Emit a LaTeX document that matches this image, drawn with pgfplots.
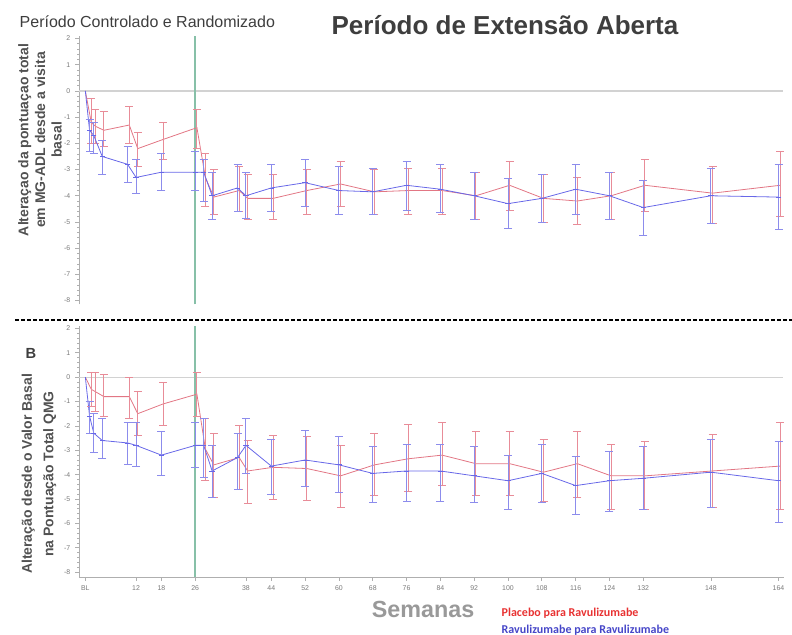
\documentclass[border=0pt]{standalone}
\usepackage{fontspec}
\setmainfont{Liberation Sans}
\newfontfamily\carlito{Carlito}
\usepackage{pgfplots}
\usepackage{pgfplotstable}
\pgfplotsset{compat=1.18}
\definecolor{cred}{RGB}{226,118,132}
\definecolor{cblue}{RGB}{104,104,232}
\definecolor{ebred}{RGB}{232,140,152}
\definecolor{ebblue}{RGB}{140,140,236}
\definecolor{cgreen}{RGB}{135,192,168}
\definecolor{zline}{RGB}{210,210,210}
\definecolor{axgray}{RGB}{175,175,175}
\definecolor{ttl}{RGB}{62,62,62}
\definecolor{legred}{RGB}{232,50,50}
\definecolor{legblue}{RGB}{70,70,200}

% Top panel (MG-ADL)
\pgfplotstableread{
x y hi lo
1 -1.5 -1.1 -2.3
2 -1.7 -1.2 -2.4
4 -2.5 -1.9 -3.2
10 -2.8 -2.1 -3.5
12 -3.3 -2.6 -3.9
18 -3.1 -2.4 -3.8
26 -3.1 -2.3 -3.8
28 -3.1 -2.6 -4.2
30 -4.0 -3.1 -4.9
36 -3.7 -2.8 -4.6
38 -4.0 -3.1 -4.85
44 -3.7 -2.8 -4.6
52 -3.5 -2.6 -4.4
60 -3.8 -2.9 -4.7
68 -3.85 -2.95 -4.7
76 -3.6 -2.7 -4.55
84 -3.75 -2.8 -4.65
92 -4.0 -3.1 -4.9
100 -4.3 -3.35 -5.25
108 -4.1 -3.2 -5.0
116 -3.75 -2.8 -4.7
124 -4.0 -3.1 -4.9
132 -4.45 -3.4 -5.5
148 -4.0 -2.95 -5.05
164 -4.05 -2.8 -5.3
}\topblue
\pgfplotstableread{
x y hi lo
1.4 -1.2 -0.3 -2.0
2.4 -1.35 -0.7 -2.0
4.4 -1.5 -0.8 -2.1
10.4 -1.3 -0.6 -2.0
12.4 -2.2 -1.6 -2.9
18.4 -1.85 -1.2 -2.6
26.4 -1.4 -0.7 -2.2
28.4 -3.3 -2.4 -4.4
30.4 -4.05 -3.0 -4.7
36.4 -3.8 -2.9 -4.6
38.4 -4.1 -3.2 -4.9
44.4 -4.1 -3.2 -4.9
52.4 -3.8 -3.0 -4.7
60.4 -3.55 -2.7 -4.4
68.4 -3.85 -3.0 -4.7
76.4 -3.8 -2.95 -4.7
84.4 -3.8 -2.95 -4.7
92.4 -4.0 -3.1 -4.9
100.4 -3.6 -2.7 -4.55
108.4 -4.1 -3.2 -5.0
116.4 -4.2 -3.3 -5.1
124.4 -4.0 -3.1 -4.9
132.4 -3.6 -2.6 -4.6
148.4 -3.9 -2.9 -5.05
164.4 -3.6 -2.3 -4.8
}\topred

% Bottom panel (QMG)
\pgfplotstableread{
x y hi lo
1 -1.6 -1.0 -2.3
2 -2.3 -1.5 -3.1
4 -2.6 -1.7 -3.35
10 -2.7 -1.85 -3.6
12 -2.8 -1.85 -3.65
18 -3.2 -2.25 -4.05
26 -2.8 -1.85 -3.7
28 -2.8 -1.7 -4.1
30 -3.85 -2.8 -4.95
36 -3.3 -2.3 -4.6
38 -2.8 -1.7 -3.95
44 -3.65 -2.55 -4.8
52 -3.4 -2.2 -4.5
60 -3.6 -2.45 -4.75
68 -3.95 -2.85 -5.15
76 -3.85 -2.75 -5.1
84 -3.85 -2.75 -5.1
92 -4.05 -2.85 -5.15
100 -4.25 -3.2 -5.45
108 -3.95 -2.75 -5.15
116 -4.45 -3.25 -5.65
124 -4.25 -3.05 -5.5
132 -4.15 -2.85 -5.45
148 -3.9 -2.55 -5.35
164 -4.25 -2.65 -5.95
}\botblue
\pgfplotstableread{
x y hi lo
1.4 -0.5 0.2 -1.2
2.4 -0.6 0.2 -1.4
4.4 -0.8 0.1 -1.6
10.4 -0.8 0.0 -1.7
12.4 -1.5 -0.6 -2.4
18.4 -1.1 -0.2 -2.0
26.4 -0.7 0.2 -1.6
28.4 -2.95 -1.7 -4.25
30.4 -3.6 -2.3 -4.95
36.4 -3.3 -2.0 -4.6
38.4 -3.85 -2.6 -5.2
44.4 -3.7 -2.4 -5.0
52.4 -3.75 -2.45 -5.05
60.4 -4.05 -2.8 -5.35
68.4 -3.6 -2.3 -4.85
76.4 -3.35 -1.95 -4.7
84.4 -3.2 -1.85 -4.45
92.4 -3.55 -2.25 -4.85
100.4 -3.55 -2.25 -4.85
108.4 -3.9 -2.55 -5.1
116.4 -3.55 -2.25 -4.95
124.4 -4.05 -2.75 -5.45
132.4 -4.05 -2.65 -5.45
148.4 -3.85 -2.35 -5.35
164.4 -3.65 -1.85 -5.45
}\botred

\pgfplotsset{
  panel/.style={
    scale only axis, width=528.75pt,
    xmin=-1.5, xmax=165.3,
    axis y line*=left,
    axis line style={axgray, line width=0.6pt},
    ytick={-8,-7,...,2}, minor y tick num=4,
    tick style={axgray, line width=0.5pt},
    major tick length=3pt, minor tick length=1.5pt,
    tick align=outside,
    yticklabel style={font=\fontsize{5.2}{6}\selectfont, text=gray!95!black},
    xticklabel style={font=\fontsize{5.2}{6}\selectfont, text=gray!95!black},
    /pgf/number format/assume math mode=true,
    clip=false,
  },
  bl/.style={color=cblue, line width=0.6pt, mark=-, mark size=2pt,
    error bars/.cd, y dir=both, y explicit,
    error bar style={color=ebblue, line width=0.7pt},
    error mark options={rotate=90, mark size=3pt, color=ebblue, line width=0.7pt}},
  rd/.style={color=cred, line width=0.6pt, mark=none,
    error bars/.cd, y dir=both, y explicit,
    error bar style={color=ebred, line width=0.7pt},
    error mark options={rotate=90, mark size=3pt, color=ebred, line width=0.7pt}},
}

\begin{document}
\begin{tikzpicture}[x=0.75pt, y=0.75pt]
\path[use as bounding box] (0,0) rectangle (792,635);

% ---------- top panel ----------
\begin{axis}[panel, at={(59.25pt,247.875pt)}, anchor=south west,
  height=201.4pt, ymin=-8.15, ymax=2.1, axis x line=none]
  \addplot[color=zline, line width=0.8pt] coordinates {(-1.5,0) (165,0)};
  \addplot[draw=cgreen, line width=1.2pt] coordinates {(26,-8.15) (26,2.1)};
  \addplot[color=cred, line width=0.6pt] coordinates {(0,0) (1.4,-1.2)};
  \addplot[color=cblue, line width=0.6pt] coordinates {(0,0) (1,-1.5)};
  \addplot[rd] table[x=x, y=y, y error plus expr=\thisrow{hi}-\thisrow{y}, y error minus expr=\thisrow{y}-\thisrow{lo}] {\topred};
  \addplot[bl] table[x=x, y=y, y error plus expr=\thisrow{hi}-\thisrow{y}, y error minus expr=\thisrow{y}-\thisrow{lo}] {\topblue};
\end{axis}

% ---------- bottom panel ----------
\begin{axis}[panel, at={(59.25pt,43.5pt)}, anchor=south west,
  height=188.3pt, ymin=-8.2, ymax=2.1,
  axis x line*=bottom,
  xtick={0,12,18,26,38,44,52,60,68,76,84,92,100,108,116,124,132,148,164},
  xticklabels={BL,12,18,26,38,44,52,60,68,76,84,92,100,108,116,124,132,148,164},
  minor x tick num=0]
  \addplot[color=zline, line width=0.8pt] coordinates {(-1.5,0) (165,0)};
  \addplot[draw=cgreen, line width=1.2pt] coordinates {(26,-8.2) (26,2.1)};
  \addplot[color=cred, line width=0.6pt] coordinates {(0,0) (1.4,-0.5)};
  \addplot[color=cblue, line width=0.6pt] coordinates {(0,0) (1,-1.6)};
  \addplot[rd] table[x=x, y=y, y error plus expr=\thisrow{hi}-\thisrow{y}, y error minus expr=\thisrow{y}-\thisrow{lo}] {\botred};
  \addplot[bl] table[x=x, y=y, y error plus expr=\thisrow{hi}-\thisrow{y}, y error minus expr=\thisrow{y}-\thisrow{lo}] {\botblue};
\end{axis}

% ---------- texts ----------
\node[anchor=base west, font=\fontsize{12}{14}\selectfont, text=ttl] at (15,607) {Período Controlado e Randomizado};
\node[anchor=base, font=\bfseries\fontsize{19.5}{22}\selectfont, text=ttl] at (505,600) {Período de Extensão Aberta};
\node[rotate=90, align=center, font=\bfseries\fontsize{10.5}{12.5}\selectfont, text=ttl!90] at (40,495)
  {Alteraçao da pontuaçao total\\em MG-ADL desde a visita\\basal};
\node[rotate=90, align=center, font=\bfseries\fontsize{10.5}{16}\selectfont, text=ttl!90] at (39,161)
  {Alteração desde o Valor Basal\\na Pontuação Total QMG};
\node[font=\bfseries\fontsize{11}{13}\selectfont, text=ttl] at (31,282) {B};
\draw[black, line width=1.5pt, dash pattern=on 3pt off 1.5pt] (15,315) -- (792,315);
\node[font=\bfseries\fontsize{17.5}{20}\selectfont, text=gray!80] at (423,26) {Semanas};
\node[anchor=west, font=\carlito\bfseries\fontsize{9}{10}\selectfont, text=legred] at (497,22) {Placebo para Ravulizumabe};
\node[anchor=west, font=\carlito\bfseries\fontsize{9}{10}\selectfont, text=legblue] at (497,4.5) {Ravulizumabe para Ravulizumabe};
\end{tikzpicture}
\end{document}
